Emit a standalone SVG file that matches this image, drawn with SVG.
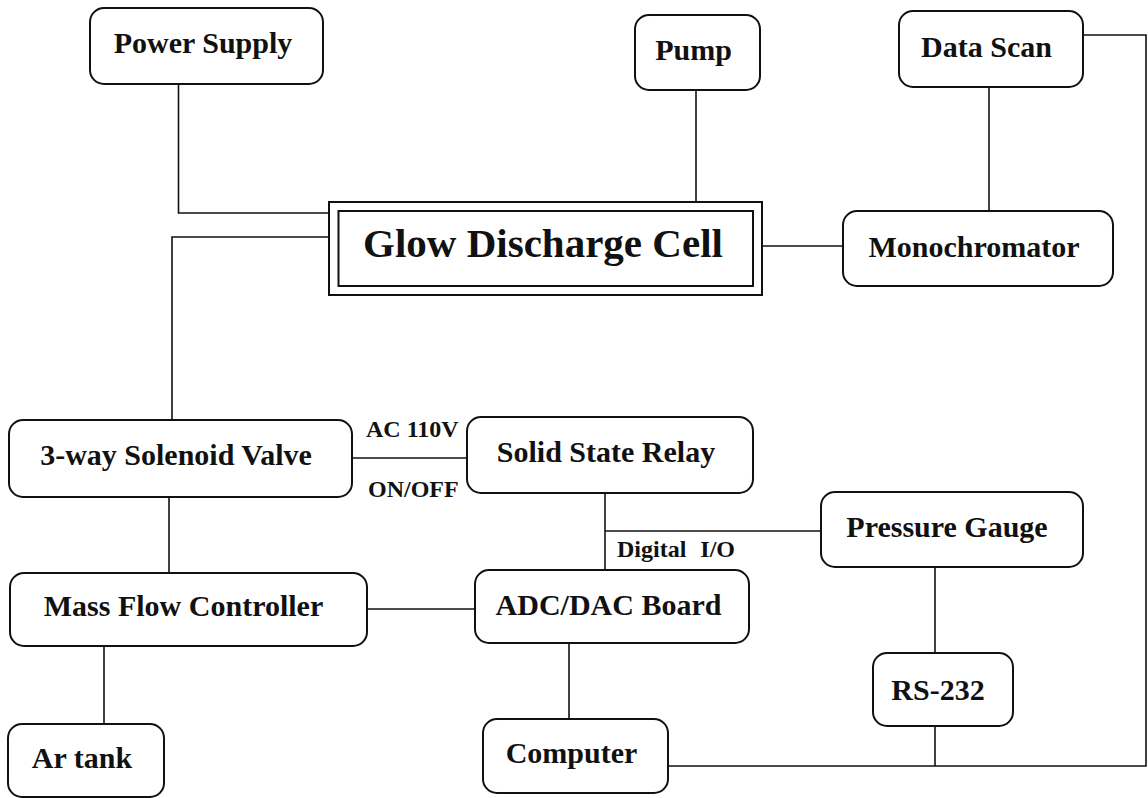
<svg xmlns="http://www.w3.org/2000/svg" width="1148" height="798" viewBox="0 0 1148 798">
<style>
.box{fill:#fff;stroke:#111;stroke-width:2}
.t{font-family:"Liberation Serif","Times New Roman",serif;font-weight:bold;font-size:30px;fill:#111;text-anchor:middle}
.s{font-family:"Liberation Serif","Times New Roman",serif;font-weight:bold;font-size:24px;fill:#111}
.c{fill:none;stroke:#111;stroke-width:1.6}
</style>
<rect width="1148" height="798" fill="#fff"/>
<g id="connectors">
<polyline class="c" points="178.5,84 178.5,213 329,213"/>
<polyline class="c" points="329,237 172,237 172,420"/>
<line class="c" x1="696" y1="90" x2="696" y2="202"/>
<line class="c" x1="989" y1="87" x2="989" y2="211"/>
<line class="c" x1="762" y1="246" x2="843" y2="246"/>
<polyline class="c" points="1083,35 1146,35 1146,766 668,766"/>
<line class="c" x1="352" y1="458" x2="467" y2="458"/>
<line class="c" x1="169" y1="497" x2="169" y2="573"/>
<line class="c" x1="605" y1="493" x2="605" y2="570"/>
<line class="c" x1="605" y1="531" x2="821" y2="531"/>
<line class="c" x1="367" y1="609" x2="475" y2="609"/>
<line class="c" x1="104" y1="646" x2="104" y2="724"/>
<line class="c" x1="569" y1="643" x2="569" y2="719"/>
<line class="c" x1="935" y1="567" x2="935" y2="653"/>
<line class="c" x1="935" y1="726" x2="935" y2="766"/>
<text class="s" x="366" y="437">AC 110V</text>
<text class="s" x="368" y="497">ON/OFF</text>
<text class="s" x="617" y="557" word-spacing="8">Digital I/O</text>
</g>
<g id="power-supply"><rect class="box" x="90" y="8" width="233" height="76" rx="14"/><text class="t" x="203" y="53">Power Supply</text></g>
<g id="pump"><rect class="box" x="635" y="15" width="125" height="75" rx="14"/><text class="t" x="693.5" y="60">Pump</text></g>
<g id="data-scan"><rect class="box" x="899" y="11" width="184" height="76" rx="14"/><text class="t" x="986.5" y="57">Data Scan</text></g>
<g id="glow-discharge-cell"><rect class="box" x="329" y="202" width="433" height="93"/><rect class="box" x="338.5" y="211" width="414.5" height="75"/><text class="t" x="543" y="257" style="font-size:41px">Glow Discharge Cell</text></g>
<g id="monochromator"><rect class="box" x="843" y="211" width="270" height="75" rx="14"/><text class="t" x="974" y="257">Monochromator</text></g>
<g id="solenoid-valve"><rect class="box" x="9" y="420" width="343" height="77" rx="14"/><text class="t" x="176" y="465">3-way Solenoid Valve</text></g>
<g id="solid-state-relay"><rect class="box" x="467" y="417" width="286" height="76" rx="14"/><text class="t" x="606" y="462">Solid State Relay</text></g>
<g id="pressure-gauge"><rect class="box" x="821" y="492" width="262" height="75" rx="14"/><text class="t" x="947" y="537">Pressure Gauge</text></g>
<g id="mass-flow-controller"><rect class="box" x="10" y="573" width="357" height="73" rx="14"/><text class="t" x="183.5" y="616">Mass Flow Controller</text></g>
<g id="adc-dac-board"><rect class="box" x="475" y="570" width="274" height="73" rx="14"/><text class="t" x="608.5" y="615">ADC/DAC Board</text></g>
<g id="rs-232"><rect class="box" x="873" y="653" width="140" height="73" rx="14"/><text class="t" x="938" y="700">RS-232</text></g>
<g id="ar-tank"><rect class="box" x="8" y="724" width="156" height="73" rx="14"/><text class="t" x="82" y="768">Ar tank</text></g>
<g id="computer"><rect class="box" x="483" y="719" width="185" height="74" rx="14"/><text class="t" x="571.5" y="763">Computer</text></g>
</svg>
